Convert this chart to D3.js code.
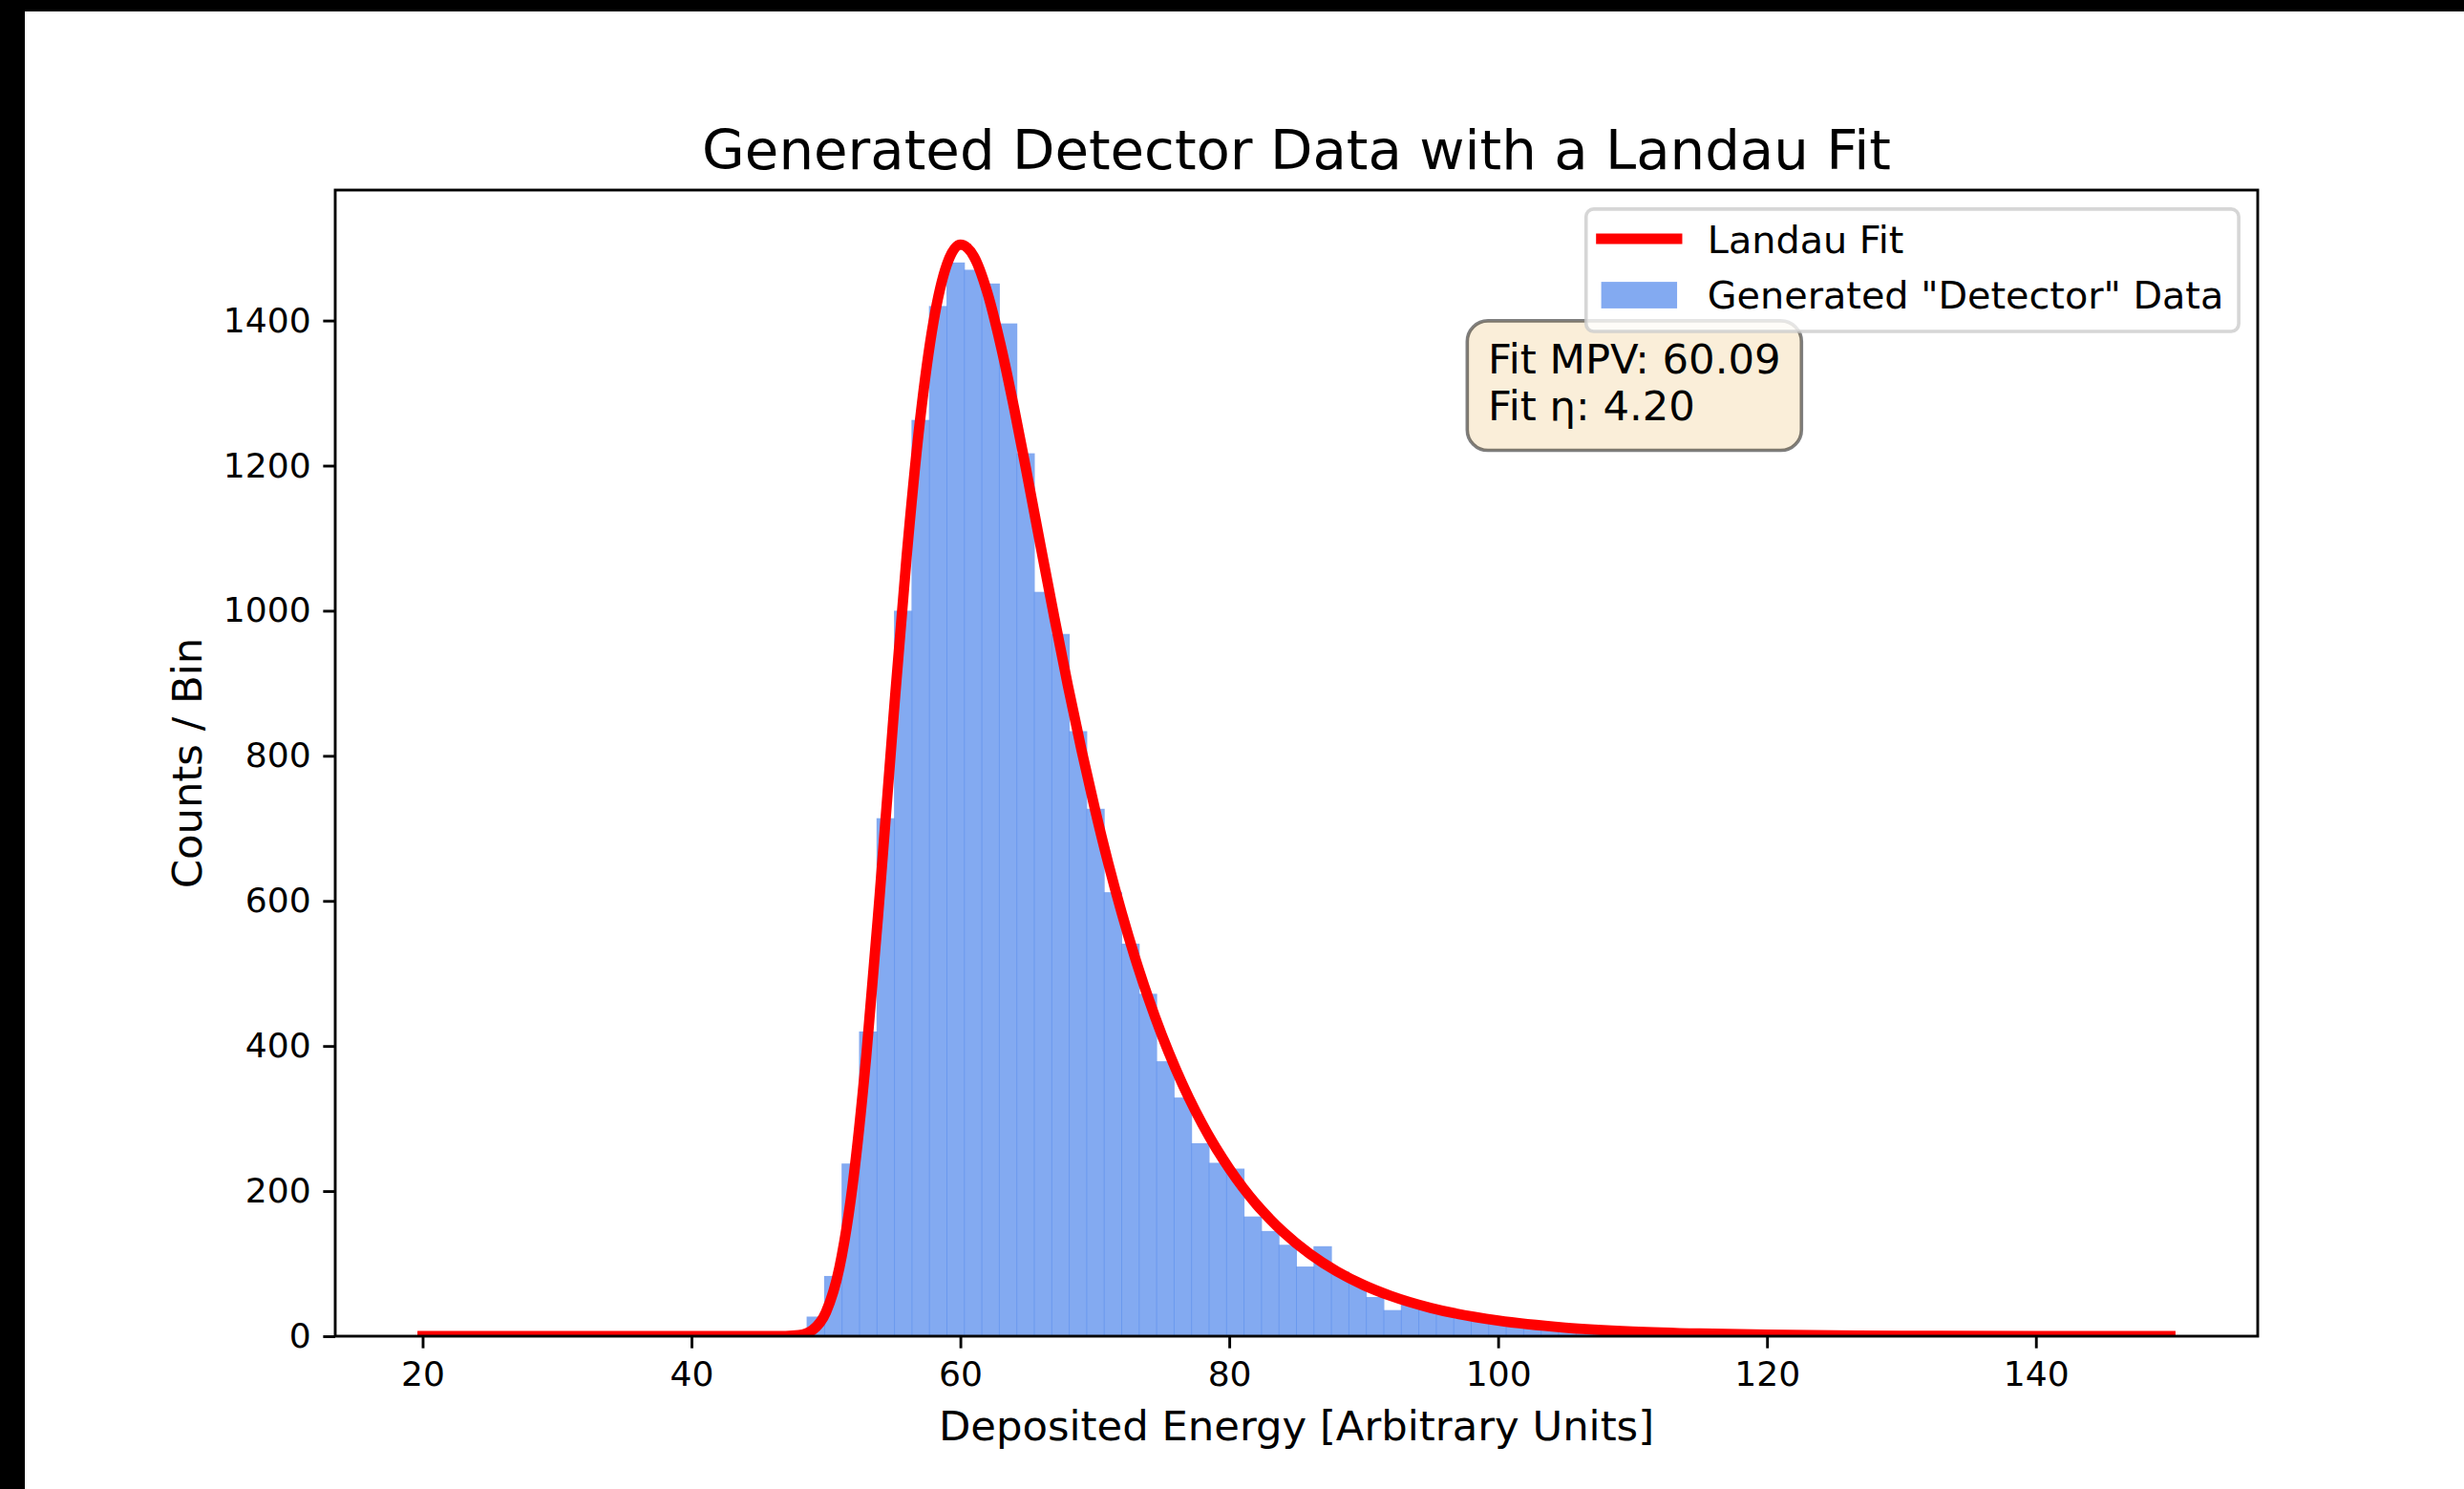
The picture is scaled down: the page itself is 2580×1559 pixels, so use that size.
<!DOCTYPE html>
<html>
<head>
<meta charset="utf-8">
<script src="https://cdn.jsdelivr.net/npm/d3@7"></script>
<style>
  html, body { margin: 0; padding: 0; background: #fff; }
  svg { display: block; }
  text { font-family: "DejaVu Sans", "Liberation Sans", sans-serif; fill: #000; }
</style>
</head>
<body>
<svg id="chart" width="2580" height="1559"></svg>
<script>
// ---- data -------------------------------------------------------------
// Histogram: 100 equal bins spanning 20..150 (bin width 1.3)
const binRange = [20, 150];
const binCount = 100;
const counts = [
  0, 0, 0, 0, 0, 0, 0, 0, 0, 0,
  0, 0, 0, 0, 0, 0, 0, 0, 0, 0,
  0, 2, 27, 83, 238, 420, 714, 1000, 1263, 1420,
  1480, 1470, 1451, 1396, 1217, 1026, 968, 834, 727, 612,
  541, 472, 379, 329, 266, 239, 231, 165, 145, 126,
  96, 124, 89, 74, 54, 36, 46, 38, 36, 28,
  27, 20, 19, 11, 15, 12, 9, 9, 7, 6,
  5, 5, 3, 4, 2, 3, 2, 1, 2, 1,
  1, 1, 0, 1, 0, 1, 0, 0, 1, 0,
  0, 0, 0, 1, 0, 0, 0, 0, 0, 0
];

// Landau fit curve, sampled
const fitX = [20, 30, 40, 44, 45, 46, 47, 48, 49, 50, 51, 52, 53, 54, 55, 56, 57, 58, 59, 60,
              61, 62, 63, 64, 65, 66, 67, 68, 69, 70, 71, 72, 73, 74, 75, 76, 77, 78, 79, 80,
              82, 83, 84, 86, 88, 90, 92, 95, 100, 105, 110, 115, 120, 130, 140, 150];
const fitY = [0, 0, 0, 0, 0, 0.01, 0.15, 1.4, 8.4, 32.9, 94.2, 210.2, 386, 608, 847.5, 1074, 1262.6, 1398, 1477.5, 1504.6,
              1488.4, 1439, 1366, 1279, 1184, 1086, 989.7, 896.6, 809, 727.4, 652, 583.6, 521.3, 465, 414.4, 369.2, 328.5, 292.3, 259.8, 231,
              182.2, 162, 143.8, 113.4, 89.4, 70.5, 55.6, 38.9, 21.5, 11.8, 6.5, 3.6, 2.0, 0.6, 0.18, 0.05];

const xTicks = [20, 40, 60, 80, 100, 120, 140];
const yTicks = [0, 200, 400, 600, 800, 1000, 1200, 1400];

const fitLines = ["Fit MPV: 60.09", "Fit \u03b7: 4.20"];
const legendLabels = ["Landau Fit", "Generated \"Detector\" Data"];
const titleText = "Generated Detector Data with a Landau Fit";
const xLabelText = "Deposited Energy [Arbitrary Units]";
const yLabelText = "Counts / Bin";

// ---- layout -----------------------------------------------------------
const PT = 260 / 72;                 // pixels per point
const plot = { left: 351, right: 2364, top: 199, bottom: 1399 };
const fsTick = 10 * PT, fsLabel = 12 * PT, fsTitle = 16 * PT, fsLegend = 11 * PT;
const barColor = "#6495ED";

const svg = d3.select("#chart");

// screen frame bands
svg.append("rect").attr("x", 0).attr("y", 0).attr("width", 2580).attr("height", 12).attr("fill", "#000");
svg.append("rect").attr("x", 0).attr("y", 0).attr("width", 26).attr("height", 1559).attr("fill", "#000");

// bins
const step = (binRange[1] - binRange[0]) / binCount;
const bins = counts.map((c, i) => ({ lo: binRange[0] + i * step, hi: binRange[0] + (i + 1) * step, count: c }));
const fitPts = fitX.map((v, i) => [v, fitY[i]]);

// scales with 5% data margins
const span = binRange[1] - binRange[0];
const x = d3.scaleLinear()
  .domain([binRange[0] - 0.05 * span, binRange[1] + 0.05 * span])
  .range([plot.left, plot.right]);
const yMax = Math.max(d3.max(counts), d3.max(fitY)) * 1.05;
const y = d3.scaleLinear().domain([0, yMax]).range([plot.bottom, plot.top]);

svg.append("defs").append("clipPath").attr("id", "plotClip")
  .append("rect")
  .attr("x", plot.left).attr("y", plot.top)
  .attr("width", plot.right - plot.left).attr("height", plot.bottom - plot.top);

// histogram bars
svg.append("g").attr("clip-path", "url(#plotClip)")
  .selectAll("rect")
  .data(bins.filter(d => d.count > 0))
  .join("rect")
  .attr("x", d => x(d.lo) - 0.5)
  .attr("width", d => x(d.hi) - x(d.lo) + 1)
  .attr("y", d => y(d.count))
  .attr("height", d => y(0) - y(d.count))
  .attr("fill", barColor)
  .attr("fill-opacity", 0.8);

// fit curve
const line = d3.line().x(d => x(d[0])).y(d => y(d[1])).curve(d3.curveMonotoneX);
svg.append("path")
  .attr("clip-path", "url(#plotClip)")
  .attr("d", line(fitPts))
  .attr("fill", "none")
  .attr("stroke", "#ff0000")
  .attr("stroke-width", 3 * PT)
  .attr("stroke-linecap", "square")
  .attr("stroke-linejoin", "round");

// axes
const tickLen = 3.5 * PT;
const xAxis = svg.append("g")
  .attr("transform", `translate(0,${plot.bottom})`)
  .call(d3.axisBottom(x).tickValues(xTicks).tickSize(tickLen).tickPadding(14).tickFormat(d3.format("d")));
const yAxis = svg.append("g")
  .attr("transform", `translate(${plot.left},0)`)
  .call(d3.axisLeft(y).tickValues(yTicks).tickSize(tickLen).tickPadding(tickLen).tickFormat(d3.format("d")));
[xAxis, yAxis].forEach(g => {
  g.select(".domain").remove();
  g.attr("font-family", null).attr("font-size", null);
  g.selectAll(".tick line").attr("stroke", "#000").attr("stroke-width", 0.8 * PT);
  g.selectAll(".tick text").style("font-size", fsTick + "px").attr("fill", "#000");
});

// spines
svg.append("rect")
  .attr("x", plot.left).attr("y", plot.top)
  .attr("width", plot.right - plot.left).attr("height", plot.bottom - plot.top)
  .attr("fill", "none").attr("stroke", "#000").attr("stroke-width", 0.8 * PT);

// title and axis labels
const cx = (plot.left + plot.right) / 2;
svg.append("text").attr("x", cx).attr("y", 177).attr("text-anchor", "middle")
  .style("font-size", fsTitle + "px").text(titleText);
svg.append("text").attr("x", cx).attr("y", 1508).attr("text-anchor", "middle")
  .style("font-size", fsLabel + "px").text(xLabelText);
svg.append("text").attr("transform", `translate(211,${(plot.top + plot.bottom) / 2}) rotate(-90)`)
  .attr("text-anchor", "middle").style("font-size", fsLabel + "px").text(yLabelText);

// fit parameter box
const boxPad = 0.5 * fsLabel;
const boxG = svg.append("g");
const boxRect = boxG.append("rect");
const tX = 1558, tY0 = 390.5, tGap = 49;
const boxTexts = boxG.selectAll("text").data(fitLines).join("text")
  .attr("x", tX).attr("y", (d, i) => tY0 + i * tGap)
  .style("font-size", fsLabel + "px").text(d => d);
let tw = 0;
boxTexts.each(function () { tw = Math.max(tw, this.getComputedTextLength()); });
const bTop = tY0 - 0.76 * fsLabel - boxPad;
const bBot = tY0 + tGap + 0.24 * fsLabel + boxPad;
boxRect.attr("x", tX - boxPad).attr("y", bTop)
  .attr("width", tw + 2 * boxPad).attr("height", bBot - bTop)
  .attr("rx", boxPad).attr("ry", boxPad)
  .attr("fill", "#F5DEB3").attr("fill-opacity", 0.5)
  .attr("stroke", "#000").attr("stroke-opacity", 0.5).attr("stroke-width", PT);

// legend (upper right)
const lg = svg.append("g");
const legPad = 0.4 * fsLegend;            // border padding
const handleLen = 2.0 * fsLegend;
const handleGap = 0.8 * fsLegend;
const legRight = plot.right - 0.5 * fsLegend;
const legTop = plot.top + 0.5 * fsLegend;
const lgBase = [264.5, 322.5];
const lgRowMid = [250, 309];
const lgFrame = lg.append("rect");
const lgTexts = lg.selectAll("text.lbl").data(legendLabels).join("text").attr("class", "lbl")
  .attr("y", (d, i) => lgBase[i])
  .style("font-size", fsLegend + "px").text(d => d);
let lw = 0;
lgTexts.each(function () { lw = Math.max(lw, this.getComputedTextLength()); });
const legLeft = legRight - (2 * legPad + handleLen + handleGap + lw);
const hx0 = legLeft + legPad, hx1 = hx0 + handleLen;
lgTexts.attr("x", hx1 + handleGap);
lgFrame
  .attr("x", legLeft).attr("y", legTop)
  .attr("width", legRight - legLeft).attr("height", 347 - legTop)
  .attr("rx", 0.2 * fsLegend).attr("ry", 0.2 * fsLegend)
  .attr("fill", "#fff").attr("fill-opacity", 0.8)
  .attr("stroke", "#cccccc").attr("stroke-opacity", 0.8).attr("stroke-width", PT);
lg.append("line")
  .attr("x1", hx0).attr("x2", hx1).attr("y1", lgRowMid[0]).attr("y2", lgRowMid[0])
  .attr("stroke", "#ff0000").attr("stroke-width", 3 * PT).attr("stroke-linecap", "square");
lg.append("rect")
  .attr("x", hx0).attr("y", lgRowMid[1] - 0.35 * fsLegend)
  .attr("width", handleLen).attr("height", 0.7 * fsLegend)
  .attr("fill", barColor).attr("fill-opacity", 0.8);
</script>
</body>
</html>
